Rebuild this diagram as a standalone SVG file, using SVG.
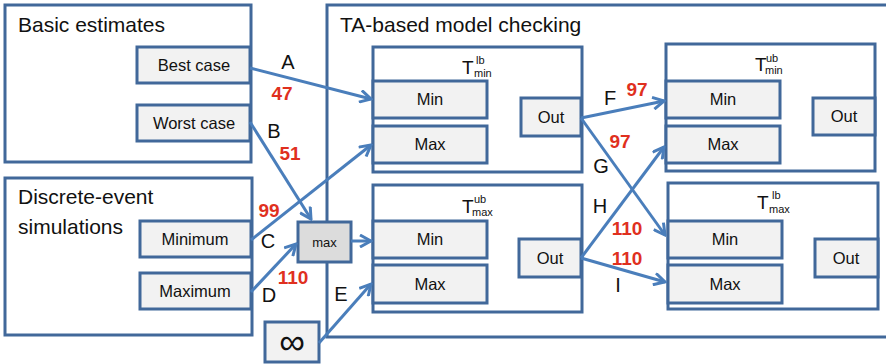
<svg xmlns="http://www.w3.org/2000/svg" width="886" height="364" viewBox="0 0 886 364">
<style>
  .frame { fill: #ffffff; stroke: #41689a; stroke-width: 3; }
  .box { fill: #f2f2f2; stroke: #41689a; stroke-width: 3; }
  .maxbox { fill: #dcdcdc; stroke: #41689a; stroke-width: 3; }
  text { font-family: "Liberation Sans", Arial, sans-serif; fill: #111111; }
  .title { font-size: 21px; }
  .lbl { font-size: 16.500px; text-anchor: middle; }
  .edge { font-size: 20px; text-anchor: middle; }
  .num { font-size: 19px; font-weight: bold; fill: #e0301e; text-anchor: middle; }
  .T { font-size: 19px; }
  .sc { font-size: 11px; }
  .conn line { stroke: #4a7ebb; stroke-width: 3; marker-end: url(#arr); }
</style>
<defs>
  <marker id="arr" viewBox="0 0 14 14" refX="12" refY="7" markerWidth="14" markerHeight="14" markerUnits="userSpaceOnUse" orient="auto">
    <path d="M1,1 L12,7 L1,13" fill="none" stroke="#4a7ebb" stroke-width="3" stroke-linejoin="miter"/>
  </marker>
</defs>

<g id="basic">
  <rect class="frame" x="5" y="5" width="246" height="157"/>
  <text class="title" x="18" y="32">Basic estimates</text>
</g>
<g id="bestcase">
  <rect class="box" x="137" y="47" width="113" height="36"/>
  <text class="lbl" x="194" y="71">Best case</text>
</g>
<g id="worstcase">
  <rect class="box" x="137" y="105" width="113" height="36"/>
  <text class="lbl" x="194" y="129">Worst case</text>
</g>

<g id="des">
  <rect class="frame" x="5" y="178" width="247" height="157"/>
  <text class="title" x="18" y="204">Discrete-event</text>
  <text class="title" x="18" y="234">simulations</text>
</g>
<g id="minimum">
  <rect class="box" x="140" y="221" width="111" height="36"/>
  <text class="lbl" x="195" y="245">Minimum</text>
</g>
<g id="maximum">
  <rect class="box" x="140" y="273" width="111" height="36"/>
  <text class="lbl" x="195" y="297">Maximum</text>
</g>

<g id="ta">
  <rect class="frame" x="327" y="5" width="565" height="332"/>
  <text class="title" x="340" y="32">TA-based model checking</text>
</g>

<g id="maxop">
  <rect class="maxbox" x="298" y="222" width="53" height="40"/>
  <text x="324.500" y="247" style="font-size:13px;text-anchor:middle">max</text>
</g>
<g id="inf">
  <rect class="box" x="265" y="322" width="54" height="40"/>
  <text x="292" y="354" style="font-size:36px;text-anchor:middle">∞</text>
</g>

<g id="tminlb">
  <rect class="frame" x="373" y="47" width="209" height="125"/>
  <text class="T" x="462" y="74">T</text>
  <text class="sc" x="476" y="64">lb</text>
  <text class="sc" x="474" y="77">min</text>
  <rect class="box" x="373" y="81" width="114" height="37"/>
  <text class="lbl" x="430" y="105">Min</text>
  <rect class="box" x="373" y="126" width="114" height="37"/>
  <text class="lbl" x="430" y="150">Max</text>
  <rect class="box" x="521" y="98" width="60" height="38"/>
  <text class="lbl" x="551" y="123">Out</text>
</g>

<g id="tmaxub">
  <rect class="frame" x="373" y="185" width="209" height="127"/>
  <text class="T" x="462" y="213">T</text>
  <text class="sc" x="474" y="203">ub</text>
  <text class="sc" x="472" y="216">max</text>
  <rect class="box" x="373" y="221" width="114" height="37"/>
  <text class="lbl" x="430" y="245">Min</text>
  <rect class="box" x="373" y="265" width="114" height="38"/>
  <text class="lbl" x="430" y="290">Max</text>
  <rect class="box" x="519" y="239" width="62" height="38"/>
  <text class="lbl" x="550" y="264">Out</text>
</g>

<g id="tminub">
  <rect class="frame" x="666" y="44" width="209" height="127"/>
  <text class="T" x="755" y="71">T</text>
  <text class="sc" x="766" y="62">ub</text>
  <text class="sc" x="765" y="74">min</text>
  <rect class="box" x="666" y="81" width="114" height="37"/>
  <text class="lbl" x="723" y="105">Min</text>
  <rect class="box" x="666" y="126" width="114" height="37"/>
  <text class="lbl" x="723" y="150">Max</text>
  <rect class="box" x="813" y="98" width="62" height="37"/>
  <text class="lbl" x="844" y="122">Out</text>
</g>

<g id="tmaxlb">
  <rect class="frame" x="668" y="183" width="210" height="126"/>
  <text class="T" x="757" y="209">T</text>
  <text class="sc" x="772" y="199">lb</text>
  <text class="sc" x="769" y="213">max</text>
  <rect class="box" x="668" y="221" width="114" height="37"/>
  <text class="lbl" x="725" y="245">Min</text>
  <rect class="box" x="668" y="265" width="114" height="38"/>
  <text class="lbl" x="725" y="290">Max</text>
  <rect class="box" x="815" y="239" width="63" height="38"/>
  <text class="lbl" x="846" y="264">Out</text>
</g>

<g id="connectors" class="conn">
  <line x1="250" y1="68" x2="371" y2="99"/>
  <line x1="250" y1="122" x2="311" y2="219"/>
  <line x1="251" y1="240" x2="371" y2="145"/>
  <line x1="251" y1="292" x2="296" y2="244"/>
  <line x1="351" y1="241" x2="371" y2="241"/>
  <line x1="319" y1="343" x2="371" y2="284"/>
  <line x1="581" y1="118" x2="664" y2="101"/>
  <line x1="581" y1="118" x2="665" y2="235"/>
  <line x1="581" y1="258" x2="664" y2="147"/>
  <line x1="581" y1="258" x2="665" y2="282"/>
</g>

<g id="labels">
  <text class="edge" x="288" y="69">A</text>
  <text class="num" x="282" y="100">47</text>
  <text class="edge" x="274" y="138">B</text>
  <text class="num" x="290" y="160">51</text>
  <text class="num" x="269" y="217">99</text>
  <text class="edge" x="268" y="248">C</text>
  <text class="num" x="293" y="284">110</text>
  <text class="edge" x="269" y="302">D</text>
  <text class="edge" x="341" y="301">E</text>
  <text class="edge" x="610" y="105">F</text>
  <text class="num" x="637" y="96">97</text>
  <text class="num" x="620" y="148">97</text>
  <text class="edge" x="601" y="173">G</text>
  <text class="edge" x="600" y="213">H</text>
  <text class="num" x="627" y="235">110</text>
  <text class="num" x="627" y="265">110</text>
  <text class="edge" x="618" y="292">I</text>
</g>
</svg>
